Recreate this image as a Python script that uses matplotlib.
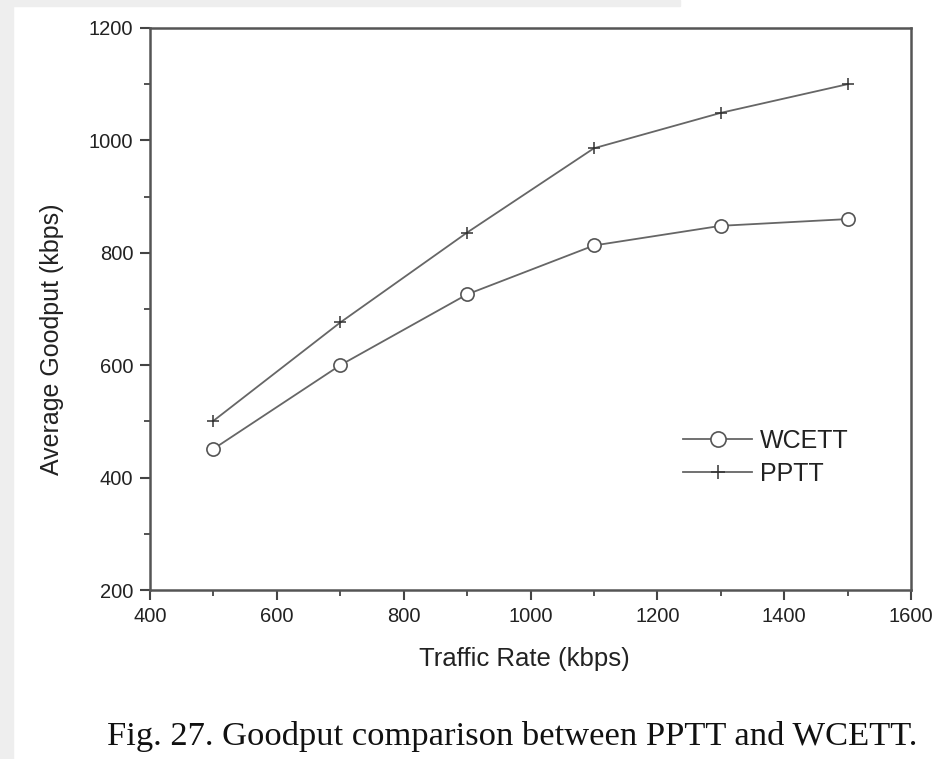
import matplotlib
matplotlib.use("Agg")
import matplotlib.pyplot as plt
from matplotlib.patches import Rectangle
from matplotlib.ticker import MultipleLocator

traffic_rate = [500, 700, 900, 1100, 1300, 1500]
wcett = [451, 600, 726, 813, 848, 860]
pptt = [501, 676, 836, 986, 1049, 1100]

fig = plt.figure(figsize=(9.44, 7.59), dpi=100)
fig.patch.set_facecolor("white")
# gray page edge strips
fig.patches.append(Rectangle((0, 0), 13/944, 1, transform=fig.transFigure, color="#eeeeee", zorder=-10))
fig.patches.append(Rectangle((0, 1-6/759), 680/944, 6/759, transform=fig.transFigure, color="#eeeeee", zorder=-10))

ax = fig.add_axes([150/944, 1-590/759, (911-150)/944, (590-28)/759])
lc = "#666666"
ax.plot(traffic_rate, wcett, color=lc, lw=1.3, marker="o", ms=9.5, mfc="white", mec="#555555", mew=1.2, label="WCETT")
ax.plot(traffic_rate, pptt, color=lc, lw=1.3, marker="+", ms=9, mec="#333333", mew=1.1, label="PPTT")

ax.set_xlim(400, 1600)
ax.set_ylim(200, 1200)
ax.xaxis.set_major_locator(MultipleLocator(200))
ax.xaxis.set_minor_locator(MultipleLocator(100))
ax.yaxis.set_major_locator(MultipleLocator(200))
ax.yaxis.set_minor_locator(MultipleLocator(100))
for s in ax.spines.values():
    s.set_color("#555555")
    s.set_linewidth(1.8)
ax.tick_params(which="major", direction="out", length=7, width=1.5, color="#444444",
               labelsize=14.5, labelcolor="#222222", pad=5)
ax.tick_params(which="minor", direction="out", length=4, width=1.3, color="#444444")
for lab in ax.get_xticklabels() + ax.get_yticklabels():
    lab.set_family("Liberation Sans")

ax.set_xlabel("Traffic Rate (kbps)", fontsize=18.5, family="Liberation Sans", color="#222222")
ax.set_ylabel("Average Goodput (kbps)", fontsize=18, family="Liberation Sans", color="#222222")
ax.xaxis.set_label_coords((524-150)/761, (590-647)/562)
ax.yaxis.set_label_coords((64-150)/761, 1-(339-28)/562)

leg = ax.legend(loc="upper left", bbox_to_anchor=((683-150)/761, (590-429)/562), frameon=False,
                handlelength=2.76, borderpad=0, borderaxespad=0, markerscale=1.15,
                prop={"family": "Liberation Sans", "size": 18}, labelspacing=0.36, handletextpad=0.32)
for t in leg.get_texts():
    t.set_color("#222222")

fig.text(512.5/944, 1-745/759, "Fig. 27. Goodput comparison between PPTT and WCETT.", ha="center", va="baseline",
         fontsize=24.8, family="Liberation Serif", color="#111111")

fig.savefig("out.png", dpi=100, facecolor=fig.get_facecolor())
